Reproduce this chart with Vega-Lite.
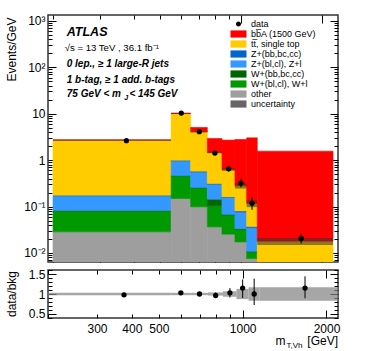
{
  "$schema": "https://vega.github.io/schema/vega-lite/v6.json",
  "autosize": {"type": "pad"},
  "padding": {"left": 4, "top": 13, "right": 0, "bottom": 0},
  "spacing": 8,
  "bounds": "flush",
  "config": {
    "view": {"stroke": "#333333", "strokeWidth": 1.5},
    "font": "Liberation Sans",
    "axis": {"domain": false, "grid": false, "tickColor": "black", "tickWidth": 1, "labelFont": "Liberation Sans", "labelFontSize": 12, "labelColor": "black", "titleFont": "Liberation Sans", "titleFontSize": 12, "titleFontWeight": "normal", "titleColor": "black", "labelOverlap": false, "labelFlush": false}
  },
  "datasets": {
    "stack": [
      {"lo": 200, "hi": 550, "series": "other", "order": 1, "value": 0.0285},
      {"lo": 200, "hi": 550, "series": "W+(bl,cl), W+l", "order": 2, "value": 0.051},
      {"lo": 200, "hi": 550, "series": "W+(bb,bc,cc)", "order": 3, "value": 0.003},
      {"lo": 200, "hi": 550, "series": "Z+(bl,cl), Z+l", "order": 4, "value": 0.088},
      {"lo": 200, "hi": 550, "series": "Z+(bb,bc,cc)", "order": 5, "value": 0.005},
      {"lo": 200, "hi": 550, "series": "tt̅, single top", "order": 6, "value": 2.52},
      {"lo": 200, "hi": 550, "series": "bb̅A (1500 GeV)", "order": 7, "value": 0.02},
      {"lo": 550, "hi": 650, "series": "other", "order": 1, "value": 0.149},
      {"lo": 550, "hi": 650, "series": "W+(bl,cl), W+l", "order": 2, "value": 0.31},
      {"lo": 550, "hi": 650, "series": "W+(bb,bc,cc)", "order": 3, "value": 0.005},
      {"lo": 550, "hi": 650, "series": "Z+(bl,cl), Z+l", "order": 4, "value": 0.5},
      {"lo": 550, "hi": 650, "series": "Z+(bb,bc,cc)", "order": 5, "value": 0.03},
      {"lo": 550, "hi": 650, "series": "tt̅, single top", "order": 6, "value": 9.1},
      {"lo": 550, "hi": 650, "series": "bb̅A (1500 GeV)", "order": 7, "value": 0.15},
      {"lo": 650, "hi": 750, "series": "other", "order": 1, "value": 0.0986},
      {"lo": 650, "hi": 750, "series": "W+(bl,cl), W+l", "order": 2, "value": 0.154},
      {"lo": 650, "hi": 750, "series": "W+(bb,bc,cc)", "order": 3, "value": 0.005},
      {"lo": 650, "hi": 750, "series": "Z+(bl,cl), Z+l", "order": 4, "value": 0.3},
      {"lo": 650, "hi": 750, "series": "Z+(bb,bc,cc)", "order": 5, "value": 0.02},
      {"lo": 650, "hi": 750, "series": "tt̅, single top", "order": 6, "value": 3.49},
      {"lo": 650, "hi": 750, "series": "bb̅A (1500 GeV)", "order": 7, "value": 0.98},
      {"lo": 750, "hi": 850, "series": "other", "order": 1, "value": 0.0365},
      {"lo": 750, "hi": 850, "series": "W+(bl,cl), W+l", "order": 2, "value": 0.0675},
      {"lo": 750, "hi": 850, "series": "W+(bb,bc,cc)", "order": 3, "value": 0.04},
      {"lo": 750, "hi": 850, "series": "Z+(bl,cl), Z+l", "order": 4, "value": 0.159},
      {"lo": 750, "hi": 850, "series": "Z+(bb,bc,cc)", "order": 5, "value": 0.01},
      {"lo": 750, "hi": 850, "series": "tt̅, single top", "order": 6, "value": 1.147},
      {"lo": 750, "hi": 850, "series": "bb̅A (1500 GeV)", "order": 7, "value": 1.46},
      {"lo": 850, "hi": 950, "series": "other", "order": 1, "value": 0.0254},
      {"lo": 850, "hi": 950, "series": "W+(bl,cl), W+l", "order": 2, "value": 0.0396},
      {"lo": 850, "hi": 950, "series": "W+(bb,bc,cc)", "order": 3, "value": 0.003},
      {"lo": 850, "hi": 950, "series": "Z+(bl,cl), Z+l", "order": 4, "value": 0.089},
      {"lo": 850, "hi": 950, "series": "Z+(bb,bc,cc)", "order": 5, "value": 0.005},
      {"lo": 850, "hi": 950, "series": "tt̅, single top", "order": 6, "value": 0.468},
      {"lo": 850, "hi": 950, "series": "bb̅A (1500 GeV)", "order": 7, "value": 2.07},
      {"lo": 950, "hi": 1050, "series": "other", "order": 1, "value": 0.0173},
      {"lo": 950, "hi": 1050, "series": "W+(bl,cl), W+l", "order": 2, "value": 0.0152},
      {"lo": 950, "hi": 1050, "series": "W+(bb,bc,cc)", "order": 3, "value": 0.001},
      {"lo": 950, "hi": 1050, "series": "Z+(bl,cl), Z+l", "order": 4, "value": 0.043},
      {"lo": 950, "hi": 1050, "series": "Z+(bb,bc,cc)", "order": 5, "value": 0.004},
      {"lo": 950, "hi": 1050, "series": "tt̅, single top", "order": 6, "value": 0.2},
      {"lo": 950, "hi": 1050, "series": "bb̅A (1500 GeV)", "order": 7, "value": 2.5},
      {"lo": 1050, "hi": 1150, "series": "other", "order": 1, "value": 0.0076},
      {"lo": 1050, "hi": 1150, "series": "W+(bl,cl), W+l", "order": 2, "value": 0.003},
      {"lo": 1050, "hi": 1150, "series": "W+(bb,bc,cc)", "order": 3, "value": 0.0003},
      {"lo": 1050, "hi": 1150, "series": "Z+(bl,cl), Z+l", "order": 4, "value": 0.0244},
      {"lo": 1050, "hi": 1150, "series": "Z+(bb,bc,cc)", "order": 5, "value": 0.002},
      {"lo": 1050, "hi": 1150, "series": "tt̅, single top", "order": 6, "value": 0.08},
      {"lo": 1050, "hi": 1150, "series": "bb̅A (1500 GeV)", "order": 7, "value": 2.9},
      {"lo": 1150, "hi": 2200, "series": "other", "order": 1, "value": 0.002},
      {"lo": 1150, "hi": 2200, "series": "W+(bl,cl), W+l", "order": 2, "value": 0.0006},
      {"lo": 1150, "hi": 2200, "series": "W+(bb,bc,cc)", "order": 3, "value": 0.0001},
      {"lo": 1150, "hi": 2200, "series": "Z+(bl,cl), Z+l", "order": 4, "value": 0.0008},
      {"lo": 1150, "hi": 2200, "series": "Z+(bb,bc,cc)", "order": 5, "value": 0.0002},
      {"lo": 1150, "hi": 2200, "series": "tt̅, single top", "order": 6, "value": 0.0143},
      {"lo": 1150, "hi": 2200, "series": "bb̅A (1500 GeV)", "order": 7, "value": 1.54}
    ],
    "bins": [
      {"lo": 200, "hi": 550, "c": 375, "data": 2.62, "dlo": 2.53, "dhi": 2.71, "blo": 2.62, "bhi": 2.78, "ratio": 0.98, "rlo": 0.95, "rhi": 1.01, "rblo": 0.97, "rbhi": 1.03},
      {"lo": 550, "hi": 650, "c": 600, "data": 10.3, "dlo": 10.0, "dhi": 10.6, "blo": 9.8, "bhi": 10.4, "ratio": 1.03, "rlo": 1.0, "rhi": 1.06, "rblo": 0.97, "rbhi": 1.03},
      {"lo": 650, "hi": 750, "c": 700, "data": 4.1, "dlo": 3.9, "dhi": 4.3, "blo": 3.95, "bhi": 4.19, "ratio": 1.0, "rlo": 0.95, "rhi": 1.05, "rblo": 0.97, "rbhi": 1.03},
      {"lo": 750, "hi": 850, "c": 800, "data": 1.42, "dlo": 1.3, "dhi": 1.54, "blo": 1.4, "bhi": 1.52, "ratio": 0.965, "rlo": 0.89, "rhi": 1.04, "rblo": 0.96, "rbhi": 1.04},
      {"lo": 850, "hi": 950, "c": 900, "data": 0.65, "dlo": 0.57, "dhi": 0.73, "blo": 0.586, "bhi": 0.674, "ratio": 1.03, "rlo": 0.91, "rhi": 1.15, "rblo": 0.93, "rbhi": 1.07},
      {"lo": 950, "hi": 1050, "c": 1000, "data": 0.32, "dlo": 0.26, "dhi": 0.385, "blo": 0.244, "bhi": 0.317, "ratio": 1.15, "rlo": 0.9, "rhi": 1.37, "rblo": 0.87, "rbhi": 1.13},
      {"lo": 1050, "hi": 1150, "c": 1100, "data": 0.118, "dlo": 0.085, "dhi": 0.163, "blo": 0.097, "bhi": 0.137, "ratio": 1.0, "rlo": 0.72, "rhi": 1.39, "rblo": 0.83, "rbhi": 1.17},
      {"lo": 1150, "hi": 2200, "c": 1675, "data": 0.0205, "dlo": 0.016, "dhi": 0.026, "blo": 0.0149, "bhi": 0.0211, "ratio": 1.15, "rlo": 0.89, "rhi": 1.45, "rblo": 0.83, "rbhi": 1.17}
    ]
  },
  "vconcat": [
    {
      "width": 290,
      "height": 247,
      "resolve": {"axis": {"x": "independent", "y": "independent"}},
      "layer": [
        {
          "data": {"name": "stack"},
          "mark": {"type": "bar", "orient": "vertical", "strokeWidth": 0.6, "clip": true},
          "encoding": {
            "x": {"field": "lo", "type": "quantitative", "scale": {"type": "log", "domain": [200, 2200], "nice": false},
                  "axis": {"orient": "bottom", "values": [200, 300, 400, 500, 600, 700, 800, 900], "tickSize": -4, "labels": false, "title": null}},
            "x2": {"field": "hi"},
            "y": {"field": "value", "type": "quantitative", "stack": "zero", "scale": {"type": "log", "domain": [0.0064, 1330], "nice": false, "clamp": true},
                  "axis": {"orient": "left", "values": [0.01, 0.1, 1, 10, 100, 1000], "tickSize": -8, "labelPadding": 11,
                           "labelExpr": "datum.value < 0.05 ? '10⁻²' : datum.value < 0.5 ? '10⁻¹' : datum.value < 5 ? '1' : datum.value < 50 ? '10' : datum.value < 500 ? '10²' : '10³'",
                           "title": "Events/GeV", "titleAnchor": "end", "titleAlign": "right", "titleBaseline": "alphabetic", "titleAngle": -90, "titleX": -33, "titleY": 2}},
            "color": {"field": "series", "type": "nominal",
                      "scale": {"domain": ["data", "bb̅A (1500 GeV)", "tt̅, single top", "Z+(bb,bc,cc)", "Z+(bl,cl), Z+l", "W+(bb,bc,cc)", "W+(bl,cl), W+l", "other", "uncertainty"],
                                "range": ["#000000", "#ff0000", "#ffcc00", "#0066cc", "#3399ff", "#006600", "#009900", "#9e9e9e", "#666666"]},
                      "legend": {"orient": "none", "legendX": 186, "legendY": 4.5, "title": null, "labelFont": "Liberation Sans", "labelFontSize": 9, "labelColor": "black",
                                 "symbolSize": 64, "labelOffset": 8, "rowPadding": -0.3, "padding": 0, "symbolStrokeWidth": 0,
                                 "encode": {"symbols": {"update": {"shape": {"signal": "datum.value === 'data' ? 'M-0.62,0A0.62,0.62 0 1,0 0.62,0A0.62,0.62 0 1,0 -0.62,0Z' : 'M-2,-0.9H2V0.9H-2Z'"}}}}}},
            "stroke": {"field": "series", "type": "nominal",
                       "scale": {"domain": ["data", "bb̅A (1500 GeV)", "tt̅, single top", "Z+(bb,bc,cc)", "Z+(bl,cl), Z+l", "W+(bb,bc,cc)", "W+(bl,cl), W+l", "other", "uncertainty"],
                                 "range": ["#000000", "#ff0000", "#ffcc00", "#0066cc", "#3399ff", "#006600", "#009900", "#9e9e9e", "#666666"]},
                       "legend": null},
            "order": {"field": "order", "type": "quantitative"}
          }
        },
        {
          "data": {"name": "bins"},
          "mark": {"type": "rect", "color": "#333333", "opacity": 0.55},
          "encoding": {
            "x": {"field": "lo", "type": "quantitative", "scale": {"type": "log", "domain": [200, 2200], "nice": false},
                  "axis": {"orient": "bottom", "values": [1000, 2000], "tickSize": -8, "labels": false, "title": null}},
            "x2": {"field": "hi"},
            "y": {"field": "blo", "type": "quantitative", "scale": {"type": "log", "domain": [0.0064, 1330], "nice": false, "clamp": true},
                  "axis": {"orient": "left", "values": [0.007, 0.008, 0.009, 0.02, 0.03, 0.04, 0.05, 0.06, 0.07, 0.08, 0.09, 0.2, 0.3, 0.4, 0.5, 0.6, 0.7, 0.8, 0.9, 2, 3, 4, 5, 6, 7, 8, 9, 20, 30, 40, 50, 60, 70, 80, 90, 200, 300, 400, 500, 600, 700, 800, 900], "tickSize": -4, "labels": false, "title": null}},
            "y2": {"field": "bhi"}
          }
        },
        {
          "data": {"name": "bins"},
          "mark": {"type": "rule", "color": "black", "strokeWidth": 1},
          "encoding": {
            "x": {"field": "c", "type": "quantitative", "scale": {"type": "log", "domain": [200, 2200], "nice": false},
                  "axis": {"orient": "top", "values": [200, 300, 400, 500, 600, 700, 800, 900], "tickSize": -4, "labels": false, "title": null}},
            "y": {"field": "dlo", "type": "quantitative", "scale": {"type": "log", "domain": [0.0064, 1330], "nice": false, "clamp": true},
                  "axis": {"orient": "right", "values": [0.01, 0.1, 1, 10, 100, 1000], "tickSize": -8, "labels": false, "title": null}},
            "y2": {"field": "dhi"}
          }
        },
        {
          "data": {"name": "bins"},
          "mark": {"type": "point", "filled": true, "color": "black", "opacity": 1, "size": 28},
          "encoding": {
            "x": {"field": "c", "type": "quantitative", "scale": {"type": "log", "domain": [200, 2200], "nice": false},
                  "axis": {"orient": "top", "values": [1000, 2000], "tickSize": -8, "labels": false, "title": null}},
            "y": {"field": "data", "type": "quantitative", "scale": {"type": "log", "domain": [0.0064, 1330], "nice": false, "clamp": true},
                  "axis": {"orient": "right", "values": [0.007, 0.008, 0.009, 0.02, 0.03, 0.04, 0.05, 0.06, 0.07, 0.08, 0.09, 0.2, 0.3, 0.4, 0.5, 0.6, 0.7, 0.8, 0.9, 2, 3, 4, 5, 6, 7, 8, 9, 20, 30, 40, 50, 60, 70, 80, 90, 200, 300, 400, 500, 600, 700, 800, 900], "tickSize": -4, "labels": false, "title": null}}
          }
        },
        {
          "data": {"values": [{"t": "ATLAS"}]},
          "mark": {"type": "text", "align": "left", "baseline": "alphabetic", "font": "Liberation Sans", "fontSize": 12.5, "fontStyle": "italic", "fontWeight": "bold", "color": "black"},
          "encoding": {
            "x": {"datum": 225, "type": "quantitative", "scale": {"type": "log", "domain": [200, 2200], "nice": false}, "axis": null},
            "y": {"datum": 469.6, "type": "quantitative", "scale": {"type": "log", "domain": [0.0064, 1330], "nice": false, "clamp": true}, "axis": null},
            "text": {"field": "t"}
          }
        },
        {
          "data": {"values": [{"t": "√s = 13 TeV , 36.1 fb⁻¹"}]},
          "mark": {"type": "text", "align": "left", "baseline": "alphabetic", "font": "Liberation Sans", "fontSize": 9.6, "color": "black"},
          "encoding": {
            "x": {"datum": 221, "type": "quantitative", "scale": {"type": "log", "domain": [200, 2200], "nice": false}, "axis": null},
            "y": {"datum": 223.4, "type": "quantitative", "scale": {"type": "log", "domain": [0.0064, 1330], "nice": false, "clamp": true}, "axis": null},
            "text": {"field": "t"}
          }
        },
        {
          "data": {"values": [{"t": "0 lep., ≥ 1 large-R jets"}]},
          "mark": {"type": "text", "align": "left", "baseline": "alphabetic", "font": "Liberation Sans", "fontSize": 10, "fontStyle": "italic", "fontWeight": "bold", "color": "black"},
          "encoding": {
            "x": {"datum": 225, "type": "quantitative", "scale": {"type": "log", "domain": [200, 2200], "nice": false}, "axis": null},
            "y": {"datum": 101, "type": "quantitative", "scale": {"type": "log", "domain": [0.0064, 1330], "nice": false, "clamp": true}, "axis": null},
            "text": {"field": "t"}
          }
        },
        {
          "data": {"values": [{"t": "1 b-tag, ≥ 1 add. b-tags"}]},
          "mark": {"type": "text", "align": "left", "baseline": "alphabetic", "font": "Liberation Sans", "fontSize": 10, "fontStyle": "italic", "fontWeight": "bold", "color": "black"},
          "encoding": {
            "x": {"datum": 225, "type": "quantitative", "scale": {"type": "log", "domain": [200, 2200], "nice": false}, "axis": null},
            "y": {"datum": 45.7, "type": "quantitative", "scale": {"type": "log", "domain": [0.0064, 1330], "nice": false, "clamp": true}, "axis": null},
            "text": {"field": "t"}
          }
        },
        {
          "data": {"values": [{"t": "75 GeV < m"}]},
          "mark": {"type": "text", "align": "left", "baseline": "alphabetic", "font": "Liberation Sans", "fontSize": 10, "fontStyle": "italic", "fontWeight": "bold", "color": "black"},
          "encoding": {
            "x": {"datum": 225, "type": "quantitative", "scale": {"type": "log", "domain": [200, 2200], "nice": false}, "axis": null},
            "y": {"datum": 22.3, "type": "quantitative", "scale": {"type": "log", "domain": [0.0064, 1330], "nice": false, "clamp": true}, "axis": null},
            "text": {"field": "t"}
          }
        },
        {
          "data": {"values": [{"t": "J"}]},
          "mark": {"type": "text", "align": "left", "baseline": "alphabetic", "font": "Liberation Sans", "fontSize": 7, "fontStyle": "italic", "fontWeight": "bold", "color": "black", "dx": 57.5, "dy": 2.5},
          "encoding": {
            "x": {"datum": 225, "type": "quantitative", "scale": {"type": "log", "domain": [200, 2200], "nice": false}, "axis": null},
            "y": {"datum": 22.3, "type": "quantitative", "scale": {"type": "log", "domain": [0.0064, 1330], "nice": false, "clamp": true}, "axis": null},
            "text": {"field": "t"}
          }
        },
        {
          "data": {"values": [{"t": "< 145 GeV"}]},
          "mark": {"type": "text", "align": "left", "baseline": "alphabetic", "font": "Liberation Sans", "fontSize": 10, "fontStyle": "italic", "fontWeight": "bold", "color": "black", "dx": 62.7},
          "encoding": {
            "x": {"datum": 225, "type": "quantitative", "scale": {"type": "log", "domain": [200, 2200], "nice": false}, "axis": null},
            "y": {"datum": 22.3, "type": "quantitative", "scale": {"type": "log", "domain": [0.0064, 1330], "nice": false, "clamp": true}, "axis": null},
            "text": {"field": "t"}
          }
        }
      ]
    },
    {
      "width": 290,
      "height": 48,
      "resolve": {"axis": {"x": "independent", "y": "independent"}},
      "layer": [
        {
          "data": {"name": "bins"},
          "mark": {"type": "rect", "color": "#808080", "opacity": 0.7},
          "encoding": {
            "x": {"field": "lo", "type": "quantitative", "scale": {"type": "log", "domain": [200, 2200], "nice": false},
                  "axis": {"orient": "bottom", "values": [200, 300, 400, 500, 600, 700, 800, 900], "tickSize": -4, "labelPadding": 9,
                           "labelExpr": "datum.value == 300 ? '300' : datum.value == 400 ? '400' : datum.value == 500 ? '500' : ''", "title": null}},
            "x2": {"field": "hi"},
            "y": {"field": "rblo", "type": "quantitative", "scale": {"type": "linear", "domain": [0.39, 1.61], "nice": false, "zero": false},
                  "axis": {"orient": "left", "values": [0.5, 1, 1.5], "tickSize": -8, "labelPadding": 11,
                           "labelExpr": "datum.value == 0.5 ? '0.5' : datum.value == 1 ? '1' : '1.5'",
                           "title": "data/bkg", "titleAnchor": "end", "titleAlign": "right", "titleBaseline": "alphabetic", "titleAngle": -90, "titleX": -33, "titleY": 0.5}},
            "y2": {"field": "rbhi"}
          }
        },
        {
          "mark": {"type": "rule", "color": "black", "strokeWidth": 1.5},
          "encoding": {
            "x": {"datum": 200, "type": "quantitative", "scale": {"type": "log", "domain": [200, 2200], "nice": false},
                  "axis": {"orient": "top", "values": [1000, 2000], "tickSize": -8, "labels": false, "title": null}},
            "x2": {"datum": 2200},
            "y": {"datum": 1, "type": "quantitative", "scale": {"type": "linear", "domain": [0.39, 1.61], "nice": false, "zero": false},
                  "axis": {"orient": "right", "values": [0.4, 0.6, 0.7, 0.8, 0.9, 1.1, 1.2, 1.3, 1.4, 1.6], "tickSize": -4, "labels": false, "title": null}}
          }
        },
        {
          "data": {"name": "bins"},
          "mark": {"type": "rule", "color": "black", "strokeWidth": 1},
          "encoding": {
            "x": {"field": "c", "type": "quantitative", "scale": {"type": "log", "domain": [200, 2200], "nice": false},
                  "axis": {"orient": "bottom", "values": [1000, 2000], "tickSize": -8, "labelPadding": 13,
                           "labelExpr": "datum.value == 1000 ? '1000' : '2000'", "title": null}},
            "y": {"field": "rlo", "type": "quantitative", "scale": {"type": "linear", "domain": [0.39, 1.61], "nice": false, "zero": false},
                  "axis": {"orient": "left", "values": [0.4, 0.6, 0.7, 0.8, 0.9, 1.1, 1.2, 1.3, 1.4, 1.6], "tickSize": -4, "labels": false, "title": null}},
            "y2": {"field": "rhi"}
          }
        },
        {
          "data": {"name": "bins"},
          "mark": {"type": "point", "filled": true, "color": "black", "opacity": 1, "size": 28},
          "encoding": {
            "x": {"field": "c", "type": "quantitative", "scale": {"type": "log", "domain": [200, 2200], "nice": false},
                  "axis": {"orient": "top", "values": [200, 300, 400, 500, 600, 700, 800, 900], "tickSize": -4, "labels": false, "title": null}},
            "y": {"field": "ratio", "type": "quantitative", "scale": {"type": "linear", "domain": [0.39, 1.61], "nice": false, "zero": false},
                  "axis": {"orient": "right", "values": [0.5, 1, 1.5], "tickSize": -8, "labels": false, "title": null}}
          }
        },
        {
          "data": {"values": [{"t": "[GeV]"}]},
          "mark": {"type": "text", "align": "right", "baseline": "alphabetic", "font": "Liberation Sans", "fontSize": 12, "color": "black"},
          "encoding": {
            "x": {"datum": 2200, "type": "quantitative", "scale": {"type": "log", "domain": [200, 2200], "nice": false}, "axis": null},
            "y": {"datum": -0.296, "type": "quantitative", "scale": {"type": "linear", "domain": [0.39, 1.61], "nice": false, "zero": false}, "axis": null},
            "text": {"field": "t"}
          }
        },
        {
          "data": {"values": [{"t": "T,Vh"}]},
          "mark": {"type": "text", "align": "right", "baseline": "alphabetic", "font": "Liberation Sans", "fontSize": 8, "color": "black", "dx": -35.5, "dy": 3},
          "encoding": {
            "x": {"datum": 2200, "type": "quantitative", "scale": {"type": "log", "domain": [200, 2200], "nice": false}, "axis": null},
            "y": {"datum": -0.296, "type": "quantitative", "scale": {"type": "linear", "domain": [0.39, 1.61], "nice": false, "zero": false}, "axis": null},
            "text": {"field": "t"}
          }
        },
        {
          "data": {"values": [{"t": "m"}]},
          "mark": {"type": "text", "align": "right", "baseline": "alphabetic", "font": "Liberation Sans", "fontSize": 12, "color": "black", "dx": -52.5},
          "encoding": {
            "x": {"datum": 2200, "type": "quantitative", "scale": {"type": "log", "domain": [200, 2200], "nice": false}, "axis": null},
            "y": {"datum": -0.296, "type": "quantitative", "scale": {"type": "linear", "domain": [0.39, 1.61], "nice": false, "zero": false}, "axis": null},
            "text": {"field": "t"}
          }
        }
      ]
    }
  ]
}
